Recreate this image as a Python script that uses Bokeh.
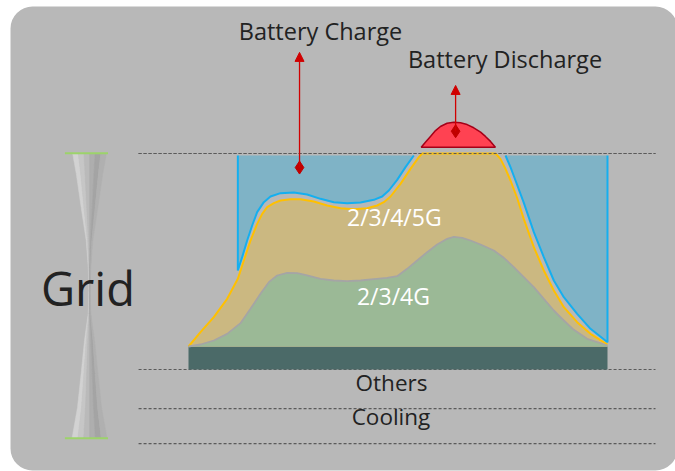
from bokeh.plotting import figure
from bokeh.models import Range1d, BoxAnnotation, Arrow, NormalHead, Label
from bokeh.embed import file_html
from bokeh.resources import INLINE

# ---------------- data (hour of day, load level) ----------------
others_level = 10.65
grid_limit = 100.0
blue_top = 99.07
dash_levels = [100.0, 0.0, -18.1, -34.3]

# 2/3/4/5G total load
g5_h = [0, 0.687, 1.451, 2.215, 2.826, 3.170, 3.551, 3.933, 4.220, 4.506, 4.888, 5.270, 5.843,
        6.415, 7.179, 7.943, 8.707, 9.471, 10.234, 10.807, 11.189, 11.571, 12.144, 12.716,
        13.194, 13.385, 17.585, 17.871, 18.158, 18.444, 18.826, 19.208, 19.781, 20.353,
        20.926, 21.499, 22.263, 23.027, 24]
g5_v = [10.65, 17.28, 24.23, 32.72, 41.98, 50.46, 59.72, 67.44, 72.07, 75.15, 77.01, 78.24, 78.86,
        78.86, 77.78, 75.93, 74.69, 74.23, 74.69, 75.93, 77.47, 80.09, 85.96, 92.90,
        98.30, 100.0, 100.0, 97.53, 92.90, 87.50, 79.40, 69.60, 56.64, 45.83,
        36.57, 28.86, 21.91, 16.51, 11.57]

# 2/3/4G load
g4_h = [0, 0.687, 1.451, 2.215, 2.979, 3.551, 4.124, 4.601, 5.079, 5.652, 6.225, 6.797, 7.561,
        8.325, 9.089, 9.852, 10.616, 11.380, 11.953, 12.525, 13.098, 13.671, 14.244, 14.817,
        15.199, 15.676, 16.153, 16.726, 17.490, 18.063, 18.635, 19.208, 19.781, 20.353,
        20.926, 21.499, 22.072, 22.836, 24]
g4_v = [10.65, 11.57, 13.43, 16.51, 21.45, 28.09, 35.03, 40.43, 43.52, 44.75, 44.60, 43.52, 41.98,
        41.20, 40.90, 41.20, 41.82, 42.44, 43.21, 46.60, 50.46, 54.32, 57.87, 60.49,
        61.42, 60.96, 59.72, 57.87, 55.09, 51.70, 47.38, 42.75, 38.12, 32.72,
        27.31, 22.69, 18.36, 14.20, 11.11]

# battery charge region boundary (left part / right part)
chg_left_h = [2.826, 2.826, 3.074, 3.360, 3.647, 3.933, 4.315, 4.697, 5.270, 6.034, 6.797, 7.561,
              8.325, 9.089, 9.852, 10.616, 11.093, 11.475, 11.953, 12.430, 12.907]
chg_left_v = [99.07, 45.83, 52.01, 59.72, 66.67, 72.84, 77.47, 80.09, 81.64, 81.94, 81.02, 79.01,
              77.47, 77.01, 77.31, 78.55, 80.09, 82.87, 87.81, 93.67, 99.07]
chg_right_h = [18.158, 18.444, 18.731, 19.208, 19.781, 20.353, 20.926, 21.499, 22.263, 23.027,
               24, 24]
chg_right_v = [99.07, 93.67, 87.50, 77.16, 63.58, 52.01, 41.20, 33.49, 25.77, 18.83, 12.65, 99.07]

# battery discharge hump
dis_h = [13.33, 13.57, 13.86, 14.15, 14.43, 14.81, 15.20, 15.58, 15.96, 16.34, 16.73, 17.01,
         17.30, 17.58]
dis_v = [102.9, 105.2, 107.9, 110.6, 112.5, 114.0, 114.5, 114.2, 113.4, 111.9, 109.9, 107.9,
         105.6, 102.9]

# arrows (x, y_start, y_end)
charge_arrow = (6.36, 93.5, 146.8)
discharge_arrow = (15.3, 110.3, 131.5)

# Grid hourglass (level, half width)
hg_x = -5.67
hg_v = [100.1, 90.7, 75.1, 59.7, 47.4, 36.6, 25.9, 13.4, -1.9, -17.6, -31.8]
hg_w = [0.97, 0.76, 0.48, 0.19, 0.075, 0.03, 0.075, 0.29, 0.48, 0.69, 1.0]

# ---------------- figure ----------------
p = figure(width=675, height=471, output_backend="svg", toolbar_location=None,
           x_range=Range1d(-10.769, 27.896), y_range=Range1d(-47.22, 170.83),
           min_border=0, outline_line_color=None,
           background_fill_color="white", border_fill_color="white")
p.axis.visible = False
p.grid.visible = False

BG = "#b8b8b8"
p.add_layout(BoxAnnotation(left=-10.196, right=28.01, top=168.06, bottom=-46.76,
                           fill_color=BG, fill_alpha=1.0, line_alpha=0.0,
                           border_radius=22, level="underlay"))

# dashed guide lines
for lv in dash_levels:
    p.line([-2.86, 26.75], [lv, lv], line_color="#5a5a5a", line_width=1.2, line_dash="3 2")

# Others bar
p.quad(left=0, right=24, bottom=0, top=others_level, fill_color="#4b6a68", line_color=None)

# battery charge (blue)
p.patch(chg_left_h, chg_left_v, fill_color="#7fb3c6", line_color=None)
p.patch(chg_right_h, chg_right_v, fill_color="#7fb3c6", line_color=None)
p.line(chg_left_h, chg_left_v, line_color="#14aff0", line_width=2)
p.line(chg_right_h, chg_right_v, line_color="#14aff0", line_width=2)

# 2/3/4/5G
p.varea(x=g5_h, y1=[others_level] * len(g5_h), y2=g5_v, fill_color="#cbb881")
p.line(g5_h, g5_v, line_color="#ffc000", line_width=2)

# 2/3/4G
p.varea(x=g4_h, y1=[others_level] * len(g4_h), y2=g4_v, fill_color="#9bb996")
p.line(g4_h, g4_v, line_color="#a5a5a5", line_width=1.8)

# re-draw limit line over the flat top
p.line([-2.86, 26.75], [grid_limit, grid_limit], line_color="#5a5a5a", line_width=1.2,
       line_dash="3 2")

# battery discharge (red)
p.patch(dis_h, dis_v, fill_color="#ff4252", line_color="#a50018", line_width=1.5)

# arrows
for (ax, y0, y1) in [charge_arrow, discharge_arrow]:
    p.add_layout(Arrow(end=NormalHead(size=9, fill_color="#d00000", line_color="#d00000"),
                       x_start=ax, y_start=y0, x_end=ax, y_end=y1,
                       line_color="#d00000", line_width=1.3))
p.scatter([charge_arrow[0], discharge_arrow[0]], [charge_arrow[1], discharge_arrow[1]],
          marker="diamond", size=13, color="#c00000")

# hourglass with a simple gradient
n = 6
cols = ["#d2d2d2", "#c6c6c6", "#bababa", "#aeaeae", "#a4a4a4", "#b0b0b0"]
for i in range(n):
    f0 = -1 + 2 * i / n
    f1 = -1 + 2 * (i + 1) / n
    xs = [hg_x + f0 * w for w in hg_w] + [hg_x + f1 * w for w in reversed(hg_w)]
    ys = list(hg_v) + list(reversed(hg_v))
    p.patch(xs, ys, fill_color=cols[i], line_color=cols[i], line_width=0.5)
for lv in [hg_v[0], hg_v[-1]]:
    p.line([hg_x - 1.41, hg_x + 1.06], [lv, lv], line_color="#9cd36a", line_width=2)

# texts
FONT = "Open Sans"
def lab(x, y, t, size, color="#222222"):
    p.add_layout(Label(x=x, y=y, text=t, text_font=FONT, text_font_size=size,
                       text_color=color, text_align="center", text_baseline="alphabetic"))

lab(7.56, 156.87, "Battery Charge", "23.5px")
lab(18.13, 143.77, "Battery Discharge", "23.5px")
lab(-5.76, 37.94, "Grid", "47px")
lab(11.63, -6.13, "Others", "22.5px")
lab(11.6, -21.53, "Cooling", "22.5px")
lab(11.79, 70.67, "2/3/4/5G", "23px", "white")
lab(11.74, 34.07, "2/3/4G", "23px", "white")

open("out.html", "w").write(file_html(p, INLINE))
